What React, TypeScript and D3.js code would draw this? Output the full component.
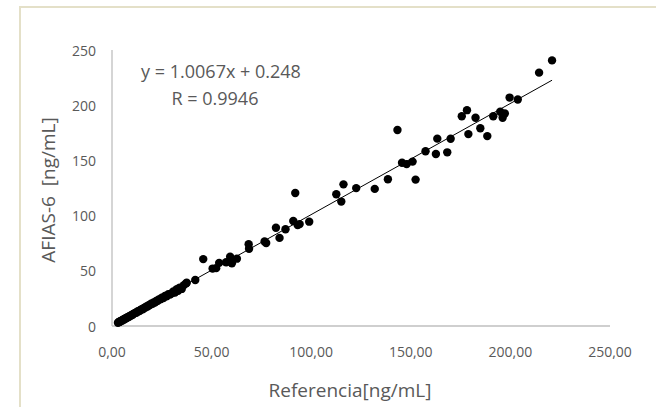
import React from "react";
import * as d3 from "d3";

const refValues: number[] = [
  3.0, 3.4, 3.8, 4.1, 4.5, 4.9, 5.2, 5.6, 6.0, 6.3, 6.8, 7.2, 7.5, 8.0, 8.4, 8.9, 9.3, 9.8, 10.2, 10.7,
  11.1, 11.6, 12.2, 12.7, 13.1, 13.8, 14.3, 14.9, 15.4, 16.0, 16.6, 17.1, 17.8, 18.4, 19.0, 19.6, 20.3,
  20.9, 21.5, 22.2, 22.8, 23.5, 24.3, 25.0, 25.8, 26.6, 27.4, 28.3, 29.1, 30.0, 30.8, 31.6, 32.5, 33.2,
  34.0, 35.0, 36.1, 37.2,
  41.8, 37.5, 45.8, 50.5, 52.3, 53.8, 57.3, 59.3, 60.2, 62.7, 59.8, 68.6, 68.8, 76.6, 77.4, 82.3, 84.1,
  87.1, 91.0, 92.0, 93.2, 94.2, 99.0, 112.6, 115.1, 116.2, 122.6, 131.9, 138.5, 143.3, 145.6, 147.9,
  150.9, 152.4, 157.4, 162.6, 163.3, 168.3, 170.0, 175.6, 178.2, 178.9, 182.5, 184.9, 188.4, 191.4,
  194.9, 196.1, 197.2, 199.6, 203.7, 214.4, 220.9,
];

const afiasValues: number[] = [
  2.9, 3.6, 3.7, 4.3, 4.4, 5.1, 5.0, 5.8, 6.2, 6.1, 7.0, 7.3, 7.4, 8.3, 8.2, 9.1, 9.2, 10.1, 10.0, 11.0,
  11.2, 11.9, 12.0, 13.0, 13.4, 13.6, 14.6, 15.2, 15.1, 16.4, 16.5, 17.5, 17.6, 18.8, 18.9, 20.1, 20.2,
  21.4, 21.3, 22.6, 22.7, 24.0, 24.1, 25.6, 25.4, 27.2, 27.0, 28.8, 28.5, 29.6, 31.2, 30.4, 33.4, 31.8,
  34.8, 33.6, 37.0, 38.6,
  41.7, 39.2, 60.6, 52.0, 52.4, 57.2, 57.8, 62.8, 56.9, 61.0, 58.5, 74.0, 70.0, 76.5, 75.2, 89.0, 79.8,
  87.7, 95.1, 120.5, 91.5, 92.3, 94.5, 119.3, 112.7, 128.3, 124.9, 124.2, 132.9, 177.6, 147.9, 146.6,
  148.9, 132.6, 158.3, 155.8, 169.7, 157.3, 169.6, 190.0, 195.5, 173.8, 188.7, 179.1, 172.0, 190.0,
  194.0, 188.7, 192.5, 206.9, 205.1, 229.5, 240.6,
];

const xTicks: number[] = [0, 50, 100, 150, 200, 250];
const yTicks: number[] = [0, 50, 100, 150, 200, 250];
const slope = 1.0067;
const intercept = 0.248;
const equationText = "y = 1.0067x + 0.248";
const rText = "R = 0.9946";
const xTitle = "Referencia[ng/mL]";
const yTitle = "AFIAS-6  [ng/mL]";

export default function App() {
  const W = 656;
  const H = 407;
  const x = d3.scaleLinear().domain([0, 250]).range([112, 610]);
  const y = d3.scaleLinear().domain([0, 250]).range([326, 50]);
  const pts = refValues.map((v, i) => [v, afiasValues[i]] as [number, number]);
  const xMin = d3.min(refValues) as number;
  const xMax = d3.max(refValues) as number;
  const line = d3.line<[number, number]>().x((d) => x(d[0])).y((d) => y(d[1]));
  const fitPath = line([
    [xMin, slope * xMin + intercept],
    [xMax, slope * xMax + intercept],
  ]);
  const fmt = (v: number) => v.toFixed(2).replace(".", ",");
  const font = "'Open Sans', sans-serif";
  const gray = "#595959";

  return (
    <div style={{ position: "fixed", left: 0, top: 0, width: W, height: H, background: "#fff" }}>
      <svg width={W} height={H} style={{ display: "block" }}>
        <rect x={0} y={0} width={W} height={H} fill="#fff" />
        <rect x={20} y={7} width={W + 40} height={H + 40} fill="#fff" stroke="#e4e0c8" strokeWidth={2} />
        <line x1={x(0)} x2={x(250)} y1={y(0)} y2={y(0)} stroke="#bfbfbf" strokeWidth={1.3} />
        <line x1={x(0)} x2={x(0)} y1={y(0)} y2={y(250)} stroke="#bfbfbf" strokeWidth={1.3} />
        {xTicks.map((t) => (
          <text key={"x" + t} x={x(t)} y={351} textAnchor="middle" dominantBaseline="central"
            fontFamily={font} fontSize={14} fill={gray}>{fmt(t)}</text>
        ))}
        {yTicks.map((t) => (
          <text key={"y" + t} x={96} y={y(t)} textAnchor="end" dominantBaseline="central"
            fontFamily={font} fontSize={14} fill={gray}>{t}</text>
        ))}
        {pts.map((p, i) => (
          <circle key={i} cx={x(p[0])} cy={y(p[1])} r={4.2} fill="#000" />
        ))}
        <path d={fitPath || ""} stroke="#000" strokeWidth={1} fill="none" />
        <text x={221} y={71} textAnchor="middle" dominantBaseline="central" fontFamily={font}
          fontSize={18} fill={gray}>{equationText}</text>
        <text x={215} y={98} textAnchor="middle" dominantBaseline="central" fontFamily={font}
          fontSize={18} fill={gray}>{rText}</text>
        <text x={350} y={390} textAnchor="middle" dominantBaseline="central" fontFamily={font}
          fontSize={19} fill={gray}>{xTitle}</text>
        <text transform={`translate(48,190) rotate(-90)`} textAnchor="middle" dominantBaseline="central"
          fontFamily={font} fontSize={19} fill={gray} style={{ whiteSpace: "pre" }}>{yTitle}</text>
      </svg>
    </div>
  );
}
